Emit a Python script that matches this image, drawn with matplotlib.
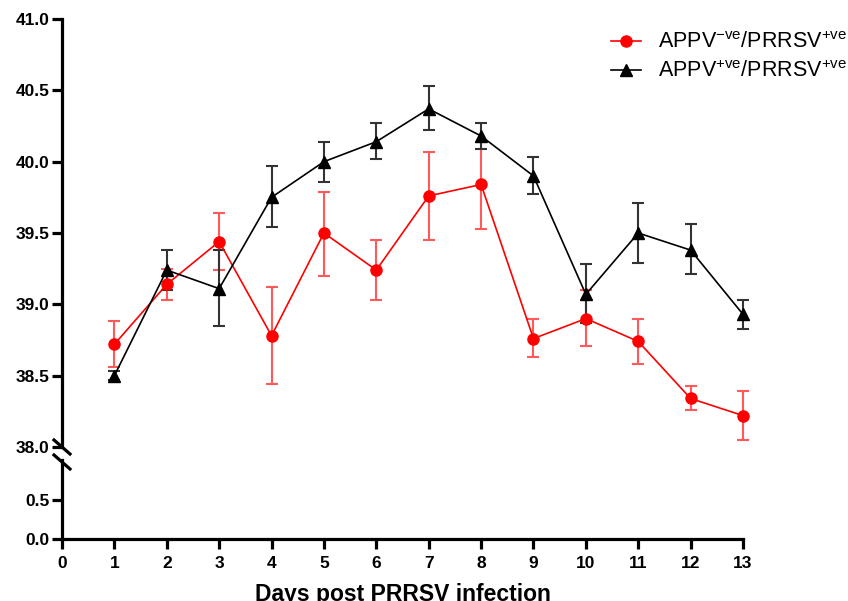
import numpy as np
import matplotlib
matplotlib.use("Agg")
import matplotlib.pyplot as plt

plt.rcParams['font.family'] = ['Liberation Sans', 'DejaVu Sans']
plt.rcParams['mathtext.fontset'] = 'custom'
plt.rcParams['mathtext.rm'] = 'Liberation Sans'

days = [1, 2, 3, 4, 5, 6, 7, 8, 9, 10, 11, 12, 13]

# APPV-ve / PRRSV+ve (red)
neg_mean = [38.72, 39.14, 39.44, 38.78, 39.50, 39.24, 39.76, 39.84, 38.76, 38.90, 38.74, 38.34, 38.22]
neg_up = [0.16, 0.11, 0.20, 0.34, 0.29, 0.21, 0.31, 0.30, 0.14, 0.20, 0.16, 0.09, 0.17]
neg_dn = [0.16, 0.11, 0.20, 0.34, 0.30, 0.21, 0.31, 0.31, 0.13, 0.19, 0.16, 0.08, 0.17]

# APPV+ve / PRRSV+ve (black)
pos_mean = [38.50, 39.24, 39.11, 39.75, 40.00, 40.14, 40.37, 40.18, 39.90, 39.07, 39.50, 39.38, 38.93]
pos_up = [0.03, 0.14, 0.27, 0.22, 0.14, 0.13, 0.16, 0.09, 0.13, 0.21, 0.21, 0.18, 0.10]
pos_dn = [0.03, 0.14, 0.26, 0.21, 0.14, 0.12, 0.15, 0.09, 0.13, 0.20, 0.21, 0.17, 0.10]

neg_label = r'APPV$^{\mathregular{-ve}}$/PRRSV$^{\mathregular{+ve}}$'
pos_label = r'APPV$^{\mathregular{+ve}}$/PRRSV$^{\mathregular{+ve}}$'

fig = plt.figure(figsize=(8.48, 6.01), dpi=100)
W, H = 848, 601
x0, x1 = 62, 743
ax = fig.add_axes([x0 / W, 1 - 447 / H, (x1 - x0) / W, (447 - 19) / H])
axb = fig.add_axes([x0 / W, 1 - 539 / H, (x1 - x0) / W, (539 - 460) / H])

lw_sp = 2.3
for a in (ax, axb):
    a.set_xlim(0, 13)
    a.spines['top'].set_visible(False)
    a.spines['right'].set_visible(False)
    a.spines['left'].set_linewidth(lw_sp)
    a.spines['bottom'].set_linewidth(lw_sp)
    a.tick_params(axis='both', width=lw_sp, length=7, labelsize=12.5, pad=2)
axb.tick_params(axis='x', pad=5)

ax.spines['bottom'].set_visible(False)
ax.tick_params(axis='x', bottom=False, labelbottom=False)
ax.set_ylim(38.0, 41.0)
yt = np.arange(38.0, 41.01, 0.5)
ax.set_yticks(yt)
ax.set_yticklabels(['%.1f' % v for v in yt], fontweight='bold')

axb.set_ylim(0, 1.0)
axb.set_yticks([0.0, 0.5])
axb.set_yticklabels(['0.0', '0.5'], fontweight='bold')
axb.set_xticks(range(0, 14))
axb.set_xticklabels([str(d) for d in range(0, 14)], fontweight='bold')
axb.set_xlabel('Days post PRRSV infection', fontsize=16.5, fontweight='bold', labelpad=9)

# error bars
eb1 = ax.errorbar(days, neg_mean, yerr=[neg_dn, neg_up], fmt='none', ecolor=(1, 0.35, 0.35),
                  elinewidth=1.5, capsize=4, capthick=1.5, zorder=2)
eb2 = ax.errorbar(days, pos_mean, yerr=[pos_dn, pos_up], fmt='none', ecolor='#333333',
                  elinewidth=1.5, capsize=4, capthick=1.5, zorder=2)
for eb in (eb1, eb2):
    for child in eb.get_children():
        child.set_clip_on(False)

ax.plot(days, neg_mean, color='red', lw=1.2, marker='o', markersize=8,
        label=neg_label, zorder=3, clip_on=False)
ax.plot(days, pos_mean, color='black', lw=1.2, marker='^', markersize=8,
        label=pos_label, zorder=3, clip_on=False)

leg = ax.legend(loc='upper right', bbox_to_anchor=(1.182, 1.015), frameon=False,
                fontsize=15.5, handlelength=1.4, handletextpad=0.8, labelspacing=0.35)

# axis break marks (figure pixel coordinates)
for yb in (447, 462):
    fig.add_artist(plt.Line2D([(x0 - 8) / W, (x0 + 8) / W],
                              [1 - (yb - 7) / H, 1 - (yb + 7) / H],
                              color='black', lw=lw_sp, transform=fig.transFigure))

fig.savefig('out.png', dpi=100)
